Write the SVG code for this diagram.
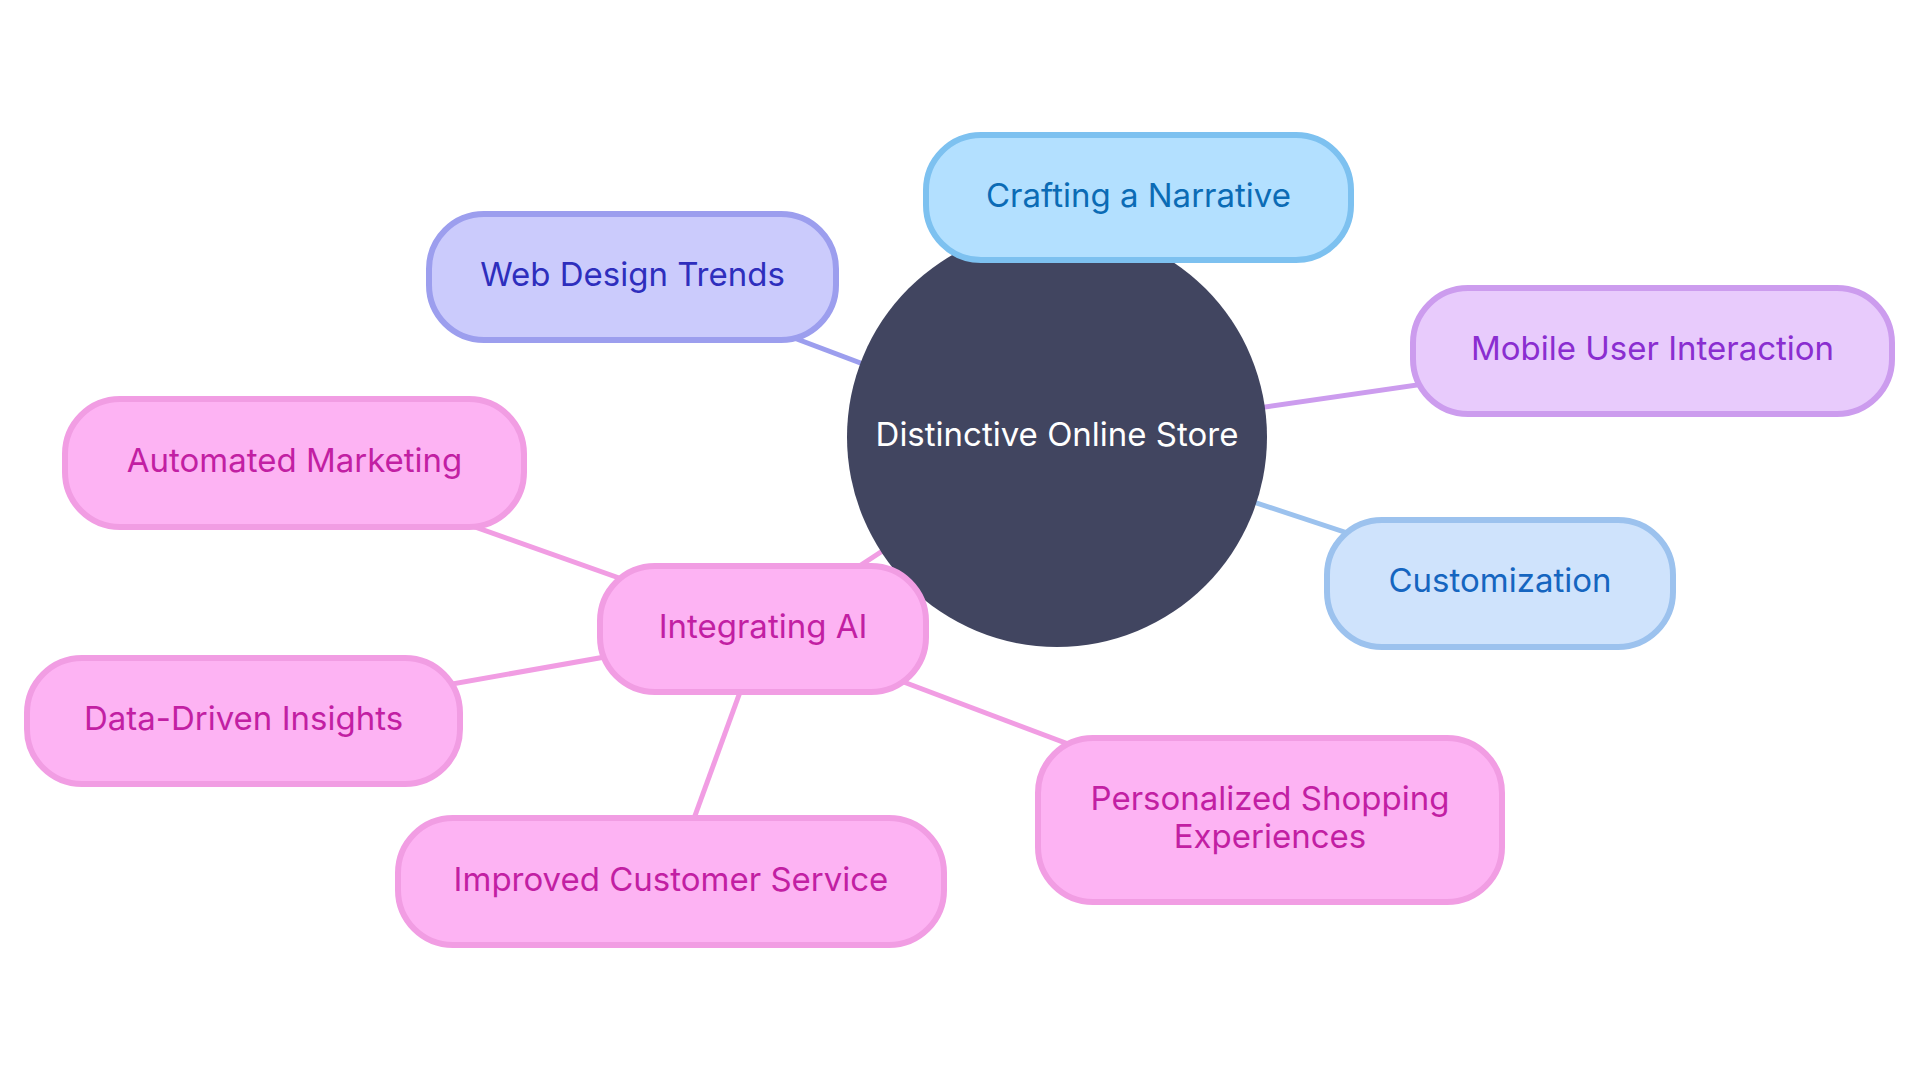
<svg xmlns="http://www.w3.org/2000/svg" width="1920" height="1080" viewBox="0 0 1920 1080">
<style>
  text { font-family: "Inter", "Noto Sans", "Liberation Sans", sans-serif; font-size: 33px; text-anchor: middle; dominant-baseline: central; }
  .edge { stroke-width: 5; fill: none; }
  .node { stroke-width: 6; }
  .pink rect { fill: #fdb3f3; stroke: #f19de3; }
  .pink text { fill: #c21fa3; }
</style>
<rect width="1920" height="1080" fill="#ffffff"/>
<g id="connectors">
  <line class="edge" x1="1057" y1="437" x2="1138.5" y2="197.5" stroke="#7dc1f0"/>
  <line class="edge" x1="1057" y1="437" x2="632.5" y2="277" stroke="#9c9eee"/>
  <line class="edge" x1="1057" y1="437" x2="1652.5" y2="351" stroke="#cc9cee"/>
  <line class="edge" x1="1057" y1="437" x2="1500" y2="583.5" stroke="#9cc2ee"/>
  <line class="edge" x1="1057" y1="437" x2="763" y2="629" stroke="#f19de3"/>
  <line class="edge" x1="763" y1="629" x2="294.5" y2="463" stroke="#f19de3"/>
  <line class="edge" x1="763" y1="629" x2="243.5" y2="721" stroke="#f19de3"/>
  <line class="edge" x1="763" y1="629" x2="671" y2="881.5" stroke="#f19de3"/>
  <line class="edge" x1="763" y1="629" x2="1270" y2="820" stroke="#f19de3"/>
</g>
<g id="root">
  <circle cx="1057" cy="437" r="210" fill="#414560"/>
  <text x="1057" y="434" fill="#ffffff">Distinctive Online Store</text>
</g>
<g id="crafting">
  <rect class="node" x="926" y="135" width="425" height="125" rx="55" fill="#b3e0ff" stroke="#7dc1f0"/>
  <text x="1138.5" y="195" fill="#0b6bb5">Crafting a Narrative</text>
</g>
<g id="webdesign">
  <rect class="node" x="429" y="214" width="407" height="126" rx="55" fill="#cbcbfc" stroke="#9c9eee"/>
  <text x="632.5" y="274" fill="#2e2ebd">Web Design Trends</text>
</g>
<g id="mobile">
  <rect class="node" x="1413" y="288" width="479" height="126" rx="55" fill="#e8cbfc" stroke="#cc9cee"/>
  <text x="1652.5" y="348" fill="#8a2ed0">Mobile User Interaction</text>
</g>
<g id="customization">
  <rect class="node" x="1327" y="520" width="346" height="127" rx="55" fill="#cfe3fc" stroke="#9cc2ee"/>
  <text x="1500" y="580" fill="#1565c0">Customization</text>
</g>
<g id="integrating" class="pink">
  <rect class="node" x="600" y="566" width="326" height="126" rx="55"/>
  <text x="763" y="626">Integrating AI</text>
</g>
<g id="automated" class="pink">
  <rect class="node" x="65" y="399" width="459" height="128" rx="55"/>
  <text x="294.5" y="460">Automated Marketing</text>
</g>
<g id="datadriven" class="pink">
  <rect class="node" x="27" y="658" width="433" height="126" rx="55"/>
  <text x="243.5" y="718">Data-Driven Insights</text>
</g>
<g id="improved" class="pink">
  <rect class="node" x="398" y="818" width="546" height="127" rx="55"/>
  <text x="671" y="879">Improved Customer Service</text>
</g>
<g id="personalized" class="pink">
  <rect class="node" x="1038" y="738" width="464" height="164" rx="55"/>
  <text x="1270" y="798">Personalized Shopping</text>
  <text x="1270" y="836">Experiences</text>
</g>
</svg>
